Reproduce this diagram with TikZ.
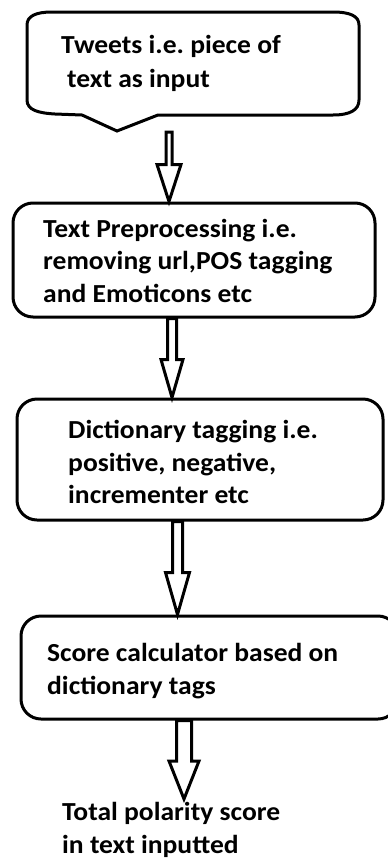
\documentclass[tikz,border=0pt]{standalone}
\usepackage{fontspec}
\setmainfont{Carlito}[FakeStretch=1.06]
\frenchspacing
\usetikzlibrary{calc}
\newcommand\blockarrow[5]{% #1 start, #2 tip, #3 shaft half width, #4 head half width, #5 head length
  \draw[blockarr] ($(#1)+(-#3,0)$) -- ($(#1|-#2)+(-#3,-#5)$) -- ($(#1|-#2)+(-#4,-#5)$)
    -- (#1|-#2) -- ($(#1|-#2)+(#4,-#5)$) -- ($(#1|-#2)+(#3,-#5)$) -- ($(#1)+(#3,0)$) -- cycle;}
\begin{document}
\begin{tikzpicture}[x=1pt,y=-1pt,
  lbl/.style={anchor=base west, inner sep=0pt, font=\fontsize{26}{30}\selectfont\bfseries},
  flowbox/.style={draw, line width=3pt, rounded corners=20pt, inner sep=0pt},
  callout/.style={draw, line width=3pt, line join=miter},
  blockarr/.style={draw, line width=3pt, line join=miter, fill=white}]
\useasboundingbox (0,0) rectangle (388,860);
\clip (0,0) rectangle (388,860);
\fill[white] (0,0) rectangle (388,860);

% top callout
\draw[callout] (27,25) -- (27,100) .. controls (27,110) and (38,113) .. (55,114)
  -- (82,115) -- (117,131) -- (158,115) -- (333,115)
  .. controls (350,115) and (359,110) .. (359,100) -- (359,25)
  .. controls (359,16) and (350,12) .. (333,12) -- (52,12)
  .. controls (36,12) and (27,16) .. (27,25) -- cycle;
\coordinate (apex) at (117,131);
\node[lbl] (t1a) at (61,53) {Tweets i.e. piece of};
\node[lbl] (t1b) at (67,87) {text as input};

% boxes
\node[flowbox, minimum width=362pt, minimum height=114pt] (b2) at (194,260) {};
\node[lbl] (t2a) at (43,237) {Text Preprocessing i.e.};
\node[lbl] (t2b) at (43,269.5) {removing url,POS tagging};
\node[lbl] (t2c) at (43,302) {and Emoticons etc};

\node[flowbox, minimum width=366pt, minimum height=121pt] (b3) at (200,459.5) {};
\node[lbl] (t3a) at (68,438) {Dictionary tagging i.e.};
\node[lbl] (t3b) at (68,471) {positive, negative,};
\node[lbl] (t3c) at (68,503) {incrementer etc};

\node[flowbox, minimum width=377pt, minimum height=103pt] (b4) at (209.5,667.5) {};
\node[lbl] (t4a) at (47,661) {Score calculator based on};
\node[lbl] (t4b) at (47,694) {dictionary tags};

\node[lbl] (t5a) at (62,820) {Total polarity score};
\node[lbl] (t5b) at (62,853) {in text inputted};

% block arrows
\coordinate (s1) at (169,132);
\path (b2.south) ++(-22,0) coordinate (s2);
\path (b3.south) ++(-22.5,0) coordinate (s3);
\path (b4.south) ++(-25.5,0) coordinate (s4);
\coordinate (e4) at (184,799);
\blockarrow{s1}{b2.north}{3}{12}{37}
\blockarrow{s2}{b3.north}{4.5}{11}{38}
\blockarrow{s3}{b4.north}{5}{12}{42}
\blockarrow{s4}{e4}{7.5}{15}{38}
\end{tikzpicture}
\end{document}
